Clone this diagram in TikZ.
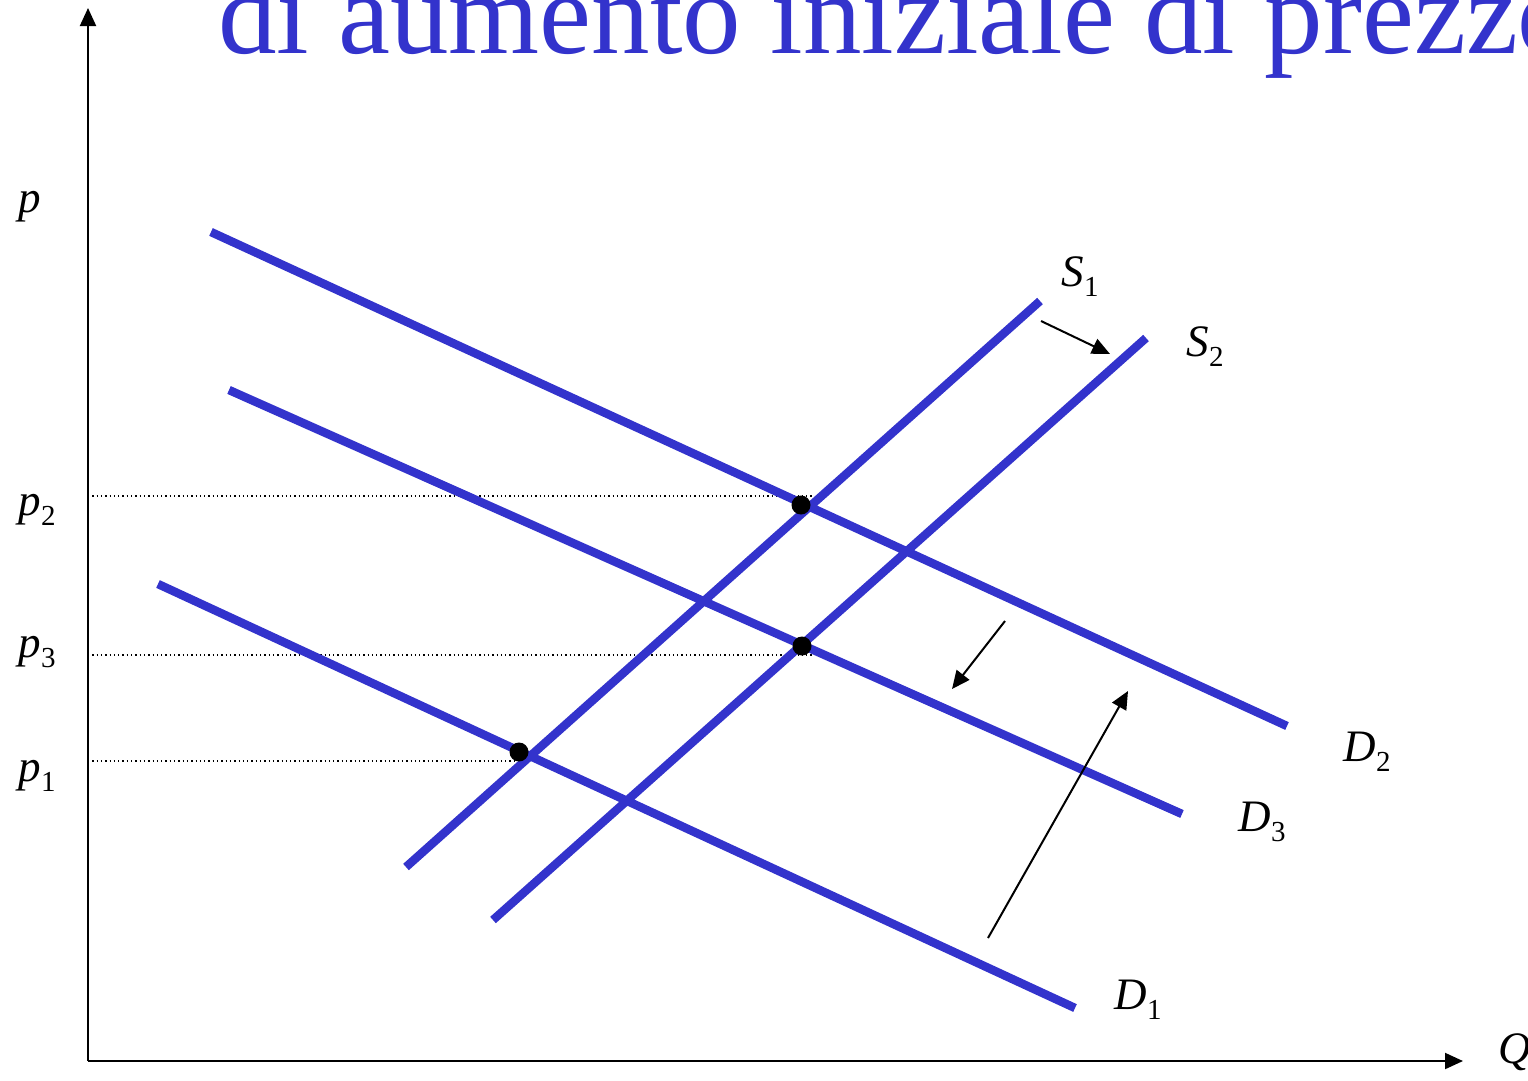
\documentclass[tikz,border=0pt]{standalone}
\usepackage{fontspec}
\setmainfont{Liberation Serif}
\usetikzlibrary{arrows.meta}
\definecolor{linea}{RGB}{51,51,204}
\newcommand{\lab}[2]{{\itshape #1}\raisebox{-0.22em}{\fontsize{29}{30}\selectfont #2}}
\begin{document}
\begin{tikzpicture}[x=1pt, y=-1pt, font=\fontsize{45}{48}\selectfont, line join=round, >={Triangle[length=18pt,width=16pt]}]
	\def\xmax{1528}\def\ymax{1080}
	\useasboundingbox (0,0) rectangle (\xmax,\ymax);
	\clip (0,0) rectangle (\xmax,\ymax);
	\path
	(88,1061) coordinate (O)
	(88,8) coordinate (Ytop)
	(1463,1061) coordinate (Xend)
	(211,232) coordinate (D2a) (1287,726) coordinate (D2b)
	(229,390) coordinate (D3a) (1182,814) coordinate (D3b)
	(158,584) coordinate (D1a) (1075,1008) coordinate (D1b)
	(406,867) coordinate (S1a) (1040,301) coordinate (S1b)
	(493,920) coordinate (S2a) (1146,338) coordinate (S2b)
	(801,505) coordinate (E2) (802,646) coordinate (E3) (519,752) coordinate (E1)
	;
	% titolo
	\node[anchor=base west, inner sep=0pt, text=linea, font=\fontsize{117}{120}\selectfont] (titolo) at (218,53) {di aumento iniziale di prezzo};
	% assi
	\draw[line width=2pt, ->] (O) -- (Ytop);
	\draw[line width=2pt, ->] (O) -- (Xend);
	\node (Q) at (1515,1052) {\itshape Q};
	\node (p) at (30,207) {\itshape p};
	% prezzi
	\draw[line width=1.3pt, dash pattern=on 1.3pt off 3pt] (88,496) -- (812,496);
	\draw[line width=1.3pt, dash pattern=on 1.3pt off 3pt] (88,655) -- (812,655);
	\draw[line width=1.3pt, dash pattern=on 1.3pt off 3pt] (88,761) -- (530,761);
	\node (p2) at (37,510) {\lab{p}{2}};
	\node (p3) at (37,652) {\lab{p}{3}};
	\node (p1) at (37,776) {\lab{p}{1}};
	% domanda e offerta
	\draw[linea, line width=8.5pt]
	(D2a) -- (D2b)
	(D3a) -- (D3b)
	(D1a) -- (D1b)
	(S1a) -- (S1b)
	(S2a) -- (S2b);
	\node (lS1) at (1080,277) {\lab{S}{1}};
	\node (lS2) at (1205,347) {\lab{S}{2}};
	\node (lD2) at (1367,752) {\lab{D}{2}};
	\node (lD3) at (1262,822) {\lab{D}{3}};
	\node (lD1) at (1138,1000) {\lab{D}{1}};
	% equilibri
	\fill (E2) circle (9.5pt);
	\fill (E3) circle (9.5pt);
	\fill (E1) circle (9.5pt);
	% spostamenti
	\draw[line width=2pt, ->] (1041,321) -- (1110,354);
	\draw[line width=2pt, ->] (1005,621) -- (952,689);
	\draw[line width=2pt, ->] (988,938) -- (1128,691);
\end{tikzpicture}
\end{document}
